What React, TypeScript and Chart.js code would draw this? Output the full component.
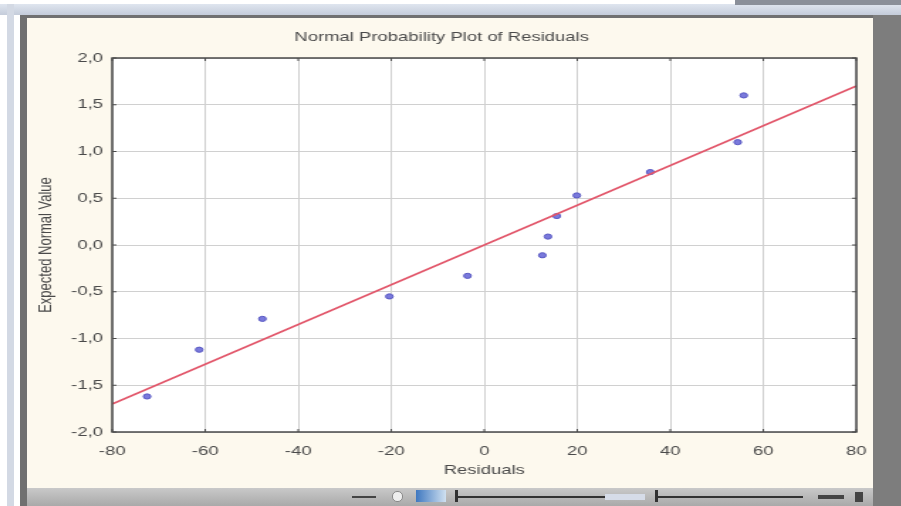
import React, { useEffect, useRef } from "react";
import { Chart, registerables } from "chart.js";

Chart.register(...registerables);

// ---- data ----
const residuals = [-72.5, -61.3, -47.7, -20.4, -3.6, 12.5, 13.7, 15.6, 19.9, 35.7, 54.5, 55.8];
const expectedNormal = [-1.62, -1.12, -0.79, -0.55, -0.33, -0.11, 0.09, 0.31, 0.53, 0.78, 1.1, 1.6];
const fitLineX = [-80, 80];
const fitLineY = [-1.7, 1.7];
const xTicks = [-80, -60, -40, -20, 0, 20, 40, 60, 80];
const yTicks = [-2, -1.5, -1, -0.5, 0, 0.5, 1, 1.5, 2];
const chartTitle = "Normal Probability Plot of Residuals";
const xTitle = "Residuals";
const yTitle = "Expected Normal Value";

const STRETCH = 1.42;
const CW = 595;
const CH = 468;
const FONT = "'Liberation Sans', Arial, sans-serif";
const TEXT = "#4a4a4a";

const plotBg = {
  id: "plotBg",
  beforeDraw(chart: any) {
    const { ctx, chartArea: a } = chart;
    ctx.save();
    ctx.fillStyle = "#ffffff";
    ctx.fillRect(a.left, a.top, a.right - a.left, a.bottom - a.top);
    ctx.restore();
  },
};

const frame = {
  id: "frame",
  afterDraw(chart: any) {
    const { ctx, chartArea: a, scales } = chart;
    ctx.save();
    ctx.strokeStyle = "#4a4a4a";
    ctx.lineWidth = 1.5;
    ctx.strokeRect(a.left, a.top, a.right - a.left, a.bottom - a.top);
    ctx.lineWidth = 1;
    ctx.beginPath();
    xTicks.forEach((v) => {
      const px = scales.x.getPixelForValue(v);
      ctx.moveTo(px, a.bottom);
      ctx.lineTo(px, a.bottom - 3);
      ctx.moveTo(px, a.top);
      ctx.lineTo(px, a.top + 3);
    });
    yTicks.forEach((v) => {
      const py = scales.y.getPixelForValue(v);
      ctx.moveTo(a.left, py);
      ctx.lineTo(a.left + 3, py);
      ctx.moveTo(a.right, py);
      ctx.lineTo(a.right - 3, py);
    });
    ctx.stroke();
    ctx.restore();
  },
};

export default function App() {
  const ref = useRef<HTMLCanvasElement | null>(null);

  useEffect(() => {
    if (!ref.current) return;
    const chart = new Chart(ref.current, {
      type: "scatter",
      data: {
        datasets: [
          {
            label: "Residuals",
            data: residuals.map((x, i) => ({ x, y: expectedNormal[i] })),
            pointRadius: 2.6,
            pointBackgroundColor: "#7a7adc",
            pointBorderColor: "#5a5ac4",
            pointBorderWidth: 1,
            showLine: false,
            order: 1,
          },
          {
            type: "line",
            label: "Fit",
            data: fitLineX.map((x, i) => ({ x, y: fitLineY[i] })),
            borderColor: "#e2566a",
            borderWidth: 1.6,
            pointRadius: 0,
            showLine: true,
            fill: false,
            order: 0,
          } as any,
        ],
      },
      options: {
        animation: false,
        responsive: false,
        devicePixelRatio: 1,
        layout: { padding: { left: 0, right: 11, top: 0, bottom: 0 } },
        plugins: {
          legend: { display: false },
          tooltip: { enabled: false },
          title: {
            display: true,
            text: chartTitle,
            color: TEXT,
            font: { family: FONT, size: 13, weight: "normal" },
            padding: { top: 11.2, bottom: 13.2 },
          },
        },
        scales: {
          x: {
            type: "linear",
            min: -80,
            max: 80,
            afterBuildTicks: (s: any) => {
              s.ticks = xTicks.map((v) => ({ value: v }));
            },
            afterFit: (s: any) => {
              s.height = 54;
              s.paddingLeft = 0;
              s.paddingRight = 0;
            },
            grid: { color: "#d0d0d0", lineWidth: 1, drawTicks: false },
            border: { display: false },
            ticks: {
              color: TEXT,
              font: { family: FONT, size: 13 },
              padding: 11.2,
              maxRotation: 0,
              callback: (v: any) => String(v),
            },
            title: {
              display: true,
              text: xTitle,
              color: TEXT,
              font: { family: FONT, size: 13 },
              padding: { top: 0, bottom: 8.2 },
            },
          },
          y: {
            type: "linear",
            min: -2,
            max: 2,
            afterBuildTicks: (s: any) => {
              s.ticks = yTicks.map((v) => ({ value: v }));
            },
            afterFit: (s: any) => {
              s.width = 60;
              s.paddingTop = 0;
              s.paddingBottom = 0;
            },
            grid: { color: "#d0d0d0", lineWidth: 1, drawTicks: false },
            border: { display: false },
            ticks: {
              color: TEXT,
              font: { family: FONT, size: 13 },
              padding: 6.5,
              callback: (v: any) => Number(v).toFixed(1).replace(".", ","),
            },
            title: {
              display: true,
              text: yTitle,
              color: TEXT,
              font: { family: FONT, size: 13 },
              padding: { top: 5.6, bottom: 0 },
            },
          },
        },
      },
      plugins: [plotBg, frame],
    });
    return () => chart.destroy();
  }, []);

  const abs = (s: React.CSSProperties): React.CSSProperties => ({ position: "absolute", ...s });

  return (
    <div
      style={{
        position: "fixed",
        left: 0,
        top: 0,
        width: 901,
        height: 506,
        overflow: "hidden",
        background: "#ffffff",
      }}
    >
      {/* window chrome */}
      <div style={abs({ left: 0, top: 4, width: 901, height: 11, background: "linear-gradient(#dfe5ef,#c4ccda)" })} />
      <div style={abs({ left: 735, top: 0, width: 166, height: 5, background: "#8a8f99" })} />
      <div style={abs({ left: 7, top: 4, width: 7, height: 502, background: "#d3d9e4" })} />
      <div style={abs({ left: 20, top: 15, width: 860, height: 491, background: "#707070" })} />
      <div style={abs({ left: 27, top: 18, width: 846, height: 470, background: "#fdf9ee" })} />
      <div style={abs({ left: 873, top: 15, width: 28, height: 491, background: "#7d7d7d" })} />
      {/* bottom toolbar */}
      <div style={abs({ left: 27, top: 488, width: 846, height: 18, background: "linear-gradient(#c9c9c9,#a9a9a9)" })} />
      <div style={abs({ left: 352, top: 496, width: 24, height: 2, background: "#444" })} />
      <div style={abs({ left: 392, top: 491, width: 9, height: 9, borderRadius: 5, background: "#eee", border: "1px solid #888" })} />
      <div style={abs({ left: 416, top: 490, width: 30, height: 12, background: "linear-gradient(90deg,#3f78c0,#cfe0f0)" })} />
      <div style={abs({ left: 455, top: 496, width: 150, height: 2, background: "#333" })} />
      <div style={abs({ left: 455, top: 490, width: 3, height: 12, background: "#333" })} />
      <div style={abs({ left: 605, top: 494, width: 40, height: 6, background: "#d6dce8" })} />
      <div style={abs({ left: 655, top: 490, width: 3, height: 12, background: "#333" })} />
      <div style={abs({ left: 658, top: 496, width: 145, height: 2, background: "#333" })} />
      <div style={abs({ left: 818, top: 495, width: 26, height: 4, background: "#444" })} />
      <div style={abs({ left: 855, top: 492, width: 8, height: 10, background: "#444" })} />
      <canvas
        ref={ref}
        width={CW}
        height={CH}
        style={{
          position: "absolute",
          left: 27,
          top: 18,
          width: CW,
          height: CH,
          transform: `scaleX(${STRETCH})`,
          transformOrigin: "0 0",
        }}
      />
    </div>
  );
}
